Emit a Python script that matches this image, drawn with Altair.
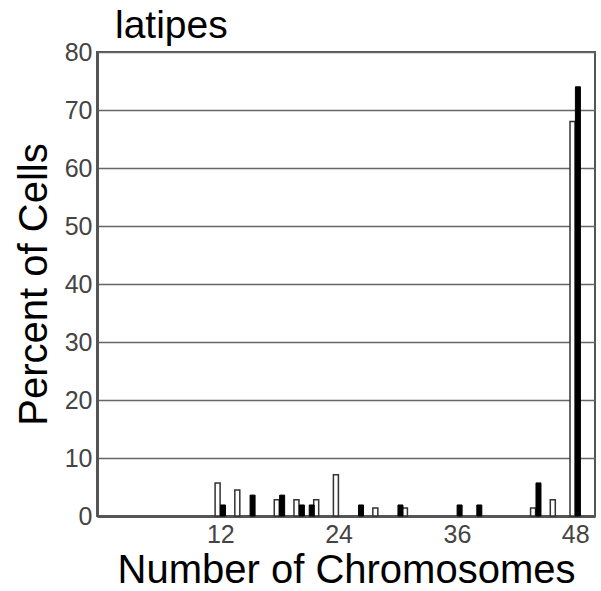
import altair as alt
import pandas as pd

# Series 1 (open bars) and series 2 (filled bars): chromosome number -> percent of cells
open_chrom = [12, 14, 18, 20, 22, 24, 28, 31, 44, 46, 48]
open_pct = [5.7, 4.5, 2.8, 2.8, 2.8, 7.1, 1.4, 1.4, 1.4, 2.8, 68.0]
filled_chrom = [12, 15, 18, 20, 21, 26, 30, 36, 38, 44, 48]
filled_pct = [1.9, 3.6, 3.6, 1.9, 1.9, 1.9, 1.9, 1.9, 1.9, 5.7, 74.0]
x_ticks = [12, 24, 36, 48]
y_ticks = [0, 10, 20, 30, 40, 50, 60, 70, 80]

df_open = pd.DataFrame({"chrom": open_chrom, "pct": open_pct})
df_filled = pd.DataFrame({"chrom": filled_chrom, "pct": filled_pct})

FONT = "Liberation Sans"

x_enc = alt.X(
    "chrom:Q",
    scale=alt.Scale(domain=[0, 49.5], nice=False, zero=False),
    axis=alt.Axis(
        values=x_ticks,
        title="Number of Chromosomes",
        titleFontSize=40,
        titleFont=FONT,
        titleFontWeight="normal",
        titleColor="black",
        titleBaseline="alphabetic",
        titleY=66,
        labelFontSize=25,
        labelFont=FONT,
        labelColor="#444",
        labelPadding=6,
        ticks=False,
        grid=False,
        domainColor="#555",
        domainWidth=3,
    ),
)
y_enc = alt.Y(
    "pct:Q",
    scale=alt.Scale(domain=[0, 80], nice=False),
    axis=alt.Axis(
        values=y_ticks,
        title="Percent of Cells",
        titleFontSize=40,
        titleFont=FONT,
        titleFontWeight="normal",
        titleColor="black",
        titlePadding=10,
        labelFontSize=25,
        labelFont=FONT,
        labelColor="#444",
        labelPadding=5,
        ticks=False,
        grid=True,
        gridColor="#666",
        gridWidth=1.5,
        domainColor="#555",
        domainWidth=3,
    ),
)

open_bars = alt.Chart(df_open).mark_bar(
    width=5, xOffset=-2.7, fill="white", stroke="#333", strokeWidth=1.5
).encode(x=x_enc, y=y_enc)

filled_bars = alt.Chart(df_filled).mark_bar(
    width=5, xOffset=2.7, fill="black", stroke="black", strokeWidth=1
).encode(x=x_enc, y=y_enc)

chart = (
    alt.layer(open_bars, filled_bars)
    .properties(
        width=498,
        height=464,
        title=alt.TitleParams(
            "latipes",
            anchor="start",
            frame="group",
            fontSize=39,
            font=FONT,
            fontWeight="normal",
            color="black",
            dx=18,
            offset=-6,
        ),
        autosize=alt.AutoSizeParams(type="none"),
        padding={"left": 97, "top": 52, "right": 6, "bottom": 75},
    )
    .configure_view(stroke="#555", strokeWidth=2)
)

chart.save("out.html", embed_options={"renderer": "svg", "actions": False})
